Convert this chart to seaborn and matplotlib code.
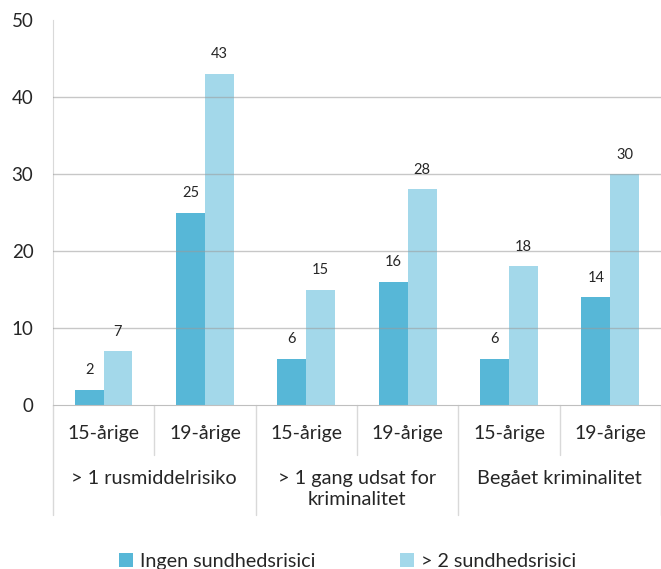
import matplotlib
matplotlib.use("Agg")
import matplotlib.pyplot as plt
import seaborn as sns
import pandas as pd
from matplotlib.lines import Line2D
from matplotlib.patches import Patch

groups = ["> 1 rusmiddelrisiko", "> 1 gang udsat for\nkriminalitet", "Begået kriminalitet"]
ages = ["15-årige", "19-årige"]
series = ["Ingen sundhedsrisici", "> 2 sundhedsrisici"]
ingen = [2, 25, 6, 16, 6, 14]
over2 = [7, 43, 15, 28, 18, 30]
colors = ["#57B7D7", "#A3D8EA"]

keys = [f"{g}|{a}" for g in range(len(groups)) for a in ages]
df = pd.DataFrame({
    "key": keys * 2,
    "value": ingen + over2,
    "series": [series[0]] * 6 + [series[1]] * 6,
})

sns.set_style("white")
plt.rcParams["font.family"] = ["Lato", "DejaVu Sans"]

fig = plt.figure(figsize=(6.61, 5.69), dpi=100)
ax = fig.add_axes([0.080, 0.288, 0.920, 0.677])

sns.barplot(data=df, x="key", y="value", hue="series", order=keys,
            hue_order=series, palette=colors, width=0.57, saturation=1,
            ax=ax, legend=False, zorder=2, linewidth=0, edgecolor="none")

ax.set_ylim(0, 50)
ax.set_xlim(-0.5, 5.5)
ax.set_yticks([0, 10, 20, 30, 40, 50])
ax.tick_params(axis="y", labelsize=13.5, pad=14, length=0, colors="#262626")
ax.set_xticks(range(6))
ax.set_xticklabels([])
ax.tick_params(axis="x", length=0)
ax.set_xlabel("")
ax.set_ylabel("")
for y in [10, 20, 30, 40]:
    ax.axhline(y, color="#9A9A9A", alpha=0.55, lw=1, zorder=3)

for s in ["top", "right"]:
    ax.spines[s].set_visible(False)
ax.spines["left"].set_color("#D9D9D9")
ax.spines["bottom"].set_color("#BFBFBF")

# data labels
for cont in ax.containers:
    ax.bar_label(cont, padding=9, fontsize=10.5, color="#262626")

trans = ax.get_xaxis_transform()
# subcategory labels
for i in range(6):
    ax.text(i, -0.073, ages[i % 2], transform=trans, ha="center", va="center",
            fontsize=14, color="#262626")
for j, g in enumerate(groups):
    ax.text(2 * j + 0.5, -0.168, g, transform=trans, ha="center", va="top",
            fontsize=14.3, color="#262626", linespacing=1.32)

# separators
for x in [0.5, 2.5, 4.5]:
    ax.add_line(Line2D([x, x], [0, -0.13], transform=trans, color="#D9D9D9",
                       lw=1, clip_on=False))
for x in [-0.5, 1.5, 3.5, 5.5]:
    ax.add_line(Line2D([x, x], [0, -0.285], transform=trans, color="#D9D9D9",
                       lw=1, clip_on=False))

handles = [Patch(facecolor=c, edgecolor="none") for c in colors]
fig.legend(handles, series, loc="center", bbox_to_anchor=(0.526, 0.013), ncol=2,
           frameon=False, fontsize=14.2, handlelength=0.7, handleheight=0.7,
           handletextpad=0.35, columnspacing=4.3)

fig.savefig("out.png", dpi=100)
